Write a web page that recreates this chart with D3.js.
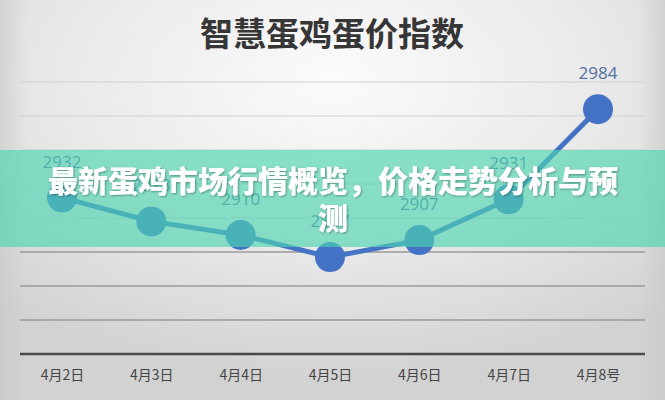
<!DOCTYPE html>
<html>
<head>
<meta charset="utf-8">
<script src="https://cdn.jsdelivr.net/npm/d3@7"></script>
<style>
  html, body { margin: 0; padding: 0; background: #e6e6e6; }
  svg { display: block; }
</style>
</head>
<body>
<svg id="chart" width="665" height="400"></svg>
<script>
// ---- data ----
const title = "智慧蛋鸡蛋价指数";
const categories = ["4月2日", "4月3日", "4月4日", "4月5日", "4月6日", "4月7日", "4月8号"];
const values = [2932, 2918, 2910, 2897, 2907, 2931, 2984];
const yTicks = [2840, 2860, 2880, 2900, 2920, 2940, 2960, 2980, 3000];
const bannerLines = ["最新蛋鸡市场行情概览，价格走势分析与预", "测"];

const W = 665, H = 400;
const svg = d3.select("#chart");
const defs = svg.append("defs");

// background vignette
const bg = defs.append("radialGradient").attr("id", "bg")
  .attr("cx", "50%").attr("cy", "20%").attr("r", "75%");
bg.append("stop").attr("offset", "0%").attr("stop-color", "#fbfbfb");
bg.append("stop").attr("offset", "55%").attr("stop-color", "#e9e9e9");
bg.append("stop").attr("offset", "100%").attr("stop-color", "#d2d2d2");
svg.append("rect").attr("width", W).attr("height", H).attr("fill", "url(#bg)");
// darker side strips
const side = defs.append("linearGradient").attr("id", "side");
side.append("stop").attr("offset", "0%").attr("stop-color", "#c8c8c8").attr("stop-opacity", 0.6);
side.append("stop").attr("offset", "4%").attr("stop-color", "#c8c8c8").attr("stop-opacity", 0);
side.append("stop").attr("offset", "96%").attr("stop-color", "#c8c8c8").attr("stop-opacity", 0);
side.append("stop").attr("offset", "100%").attr("stop-color", "#c8c8c8").attr("stop-opacity", 0.6);
svg.append("rect").attr("width", W).attr("height", H).attr("fill", "url(#side)");

const shadow = defs.append("filter").attr("id", "ts")
  .attr("x", "-10%").attr("y", "-30%").attr("width", "120%").attr("height", "160%");
shadow.append("feDropShadow").attr("dx", 1).attr("dy", 1).attr("stdDeviation", 1.2)
  .attr("flood-color", "#000").attr("flood-opacity", 0.35);

// ---- scales ----
const x = d3.scalePoint().domain(categories).range([62, 598]);
const y = d3.scaleLinear().domain([2840, 3000]).range([354, 82]);

// title
svg.append("text")
  .attr("x", 332).attr("y", 46)
  .attr("text-anchor", "middle")
  .attr("font-family", "'Noto Sans CJK SC', sans-serif")
  .attr("font-weight", 700)
  .attr("font-size", 33)
  .attr("fill", "#363636")
  .text(title);

// gridlines
svg.append("g").selectAll("line")
  .data(yTicks.slice(1))
  .join("line")
  .attr("x1", 20).attr("x2", 645)
  .attr("y1", d => y(d)).attr("y2", d => y(d))
  .attr("stroke", d => d <= 2900 ? "#9a9a9a" : "#cfcfcf")
  .attr("stroke-width", d => d <= 2900 ? 1.6 : 1.2);

// x axis
const xAxis = d3.axisBottom(x).tickSize(0).tickPadding(16);
const gx = svg.append("g").attr("transform", `translate(0,${y(yTicks[0])})`).call(xAxis);
gx.select(".domain").attr("d", "M20,0H645").attr("stroke", "#4a4a4a").attr("stroke-width", 2.4);
gx.selectAll("text")
  .attr("font-family", "'Noto Sans CJK SC', sans-serif")
  .attr("font-size", 14)
  .attr("fill", "#454545");

// line
const line = d3.line().x((d, i) => x(categories[i])).y(d => y(d));
svg.append("path").datum(values)
  .attr("d", line)
  .attr("fill", "none")
  .attr("stroke", "#4472c4")
  .attr("stroke-width", 5)
  .attr("stroke-linejoin", "round");

// points
svg.append("g").selectAll("circle")
  .data(values)
  .join("circle")
  .attr("cx", (d, i) => x(categories[i]))
  .attr("cy", d => y(d))
  .attr("r", 15)
  .attr("fill", "#4472c4");

// data labels
svg.append("g").selectAll("text")
  .data(values)
  .join("text")
  .attr("x", (d, i) => x(categories[i]))
  .attr("y", d => y(d) - 30)
  .attr("text-anchor", "middle")
  .attr("font-family", "'Open Sans', 'Liberation Sans', sans-serif")
  .attr("font-size", 17)
  .attr("fill", "#5270a0")
  .text(d => d);

// overlay banner
svg.append("rect")
  .attr("x", 0).attr("y", 150).attr("width", W).attr("height", 97)
  .attr("fill", "rgb(76,213,176)").attr("fill-opacity", 0.64);

svg.append("g").selectAll("text")
  .data(bannerLines)
  .join("text")
  .attr("x", 333)
  .attr("y", (d, i) => 192 + i * 37)
  .attr("text-anchor", "middle")
  .attr("font-family", "'Noto Sans CJK SC', sans-serif")
  .attr("font-weight", 900)
  .attr("font-size", 30)
  .attr("fill", "#ffffff")
  .attr("filter", "url(#ts)")
  .text(d => d);
</script>
</body>
</html>
